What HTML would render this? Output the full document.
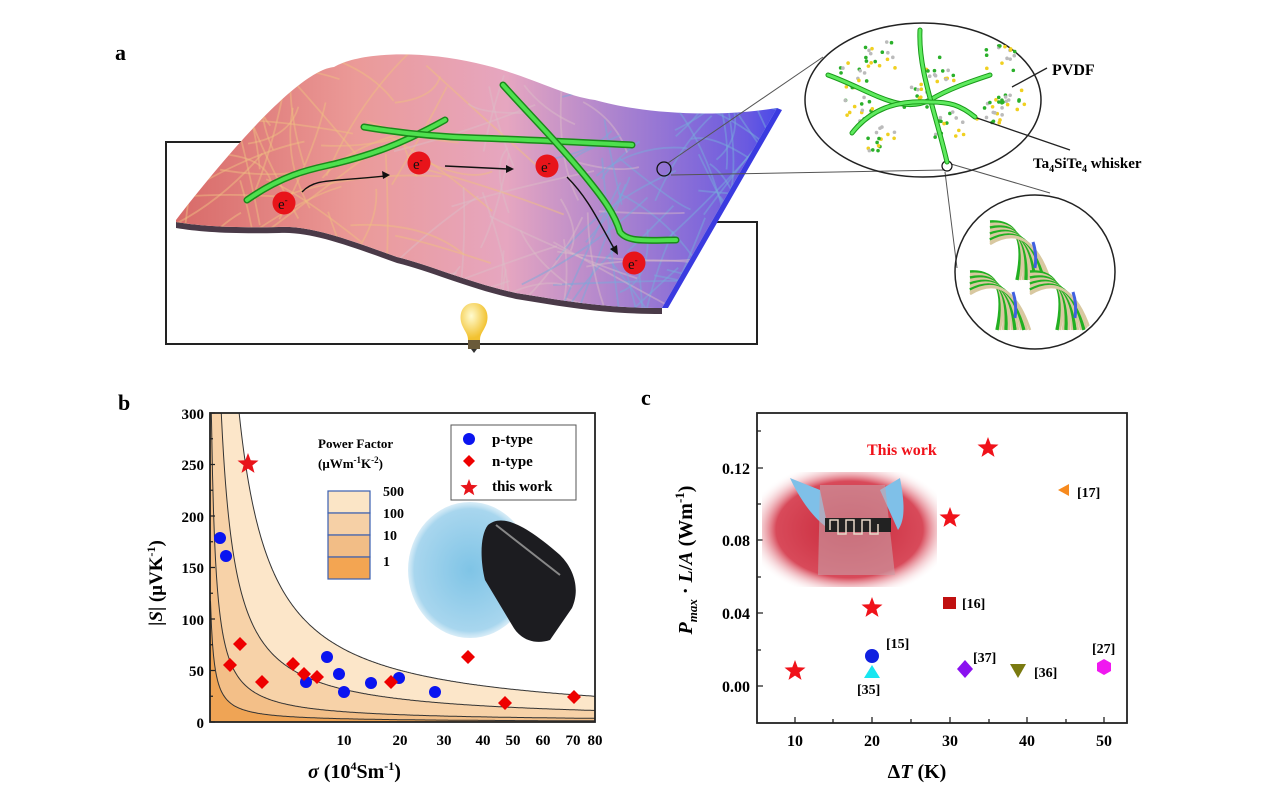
<!DOCTYPE html>
<html><head><meta charset="utf-8"><style>
html,body{margin:0;padding:0;background:#fff;}
svg{display:block;font-family:"Liberation Serif",serif;font-weight:bold;}
</style></head><body>
<svg id="s" width="1271" height="796" viewBox="0 0 1271 796" xmlns="http://www.w3.org/2000/svg">
<defs>
<linearGradient id="sheet" x1="176" y1="0" x2="777" y2="0" gradientUnits="userSpaceOnUse">
<stop offset="0" stop-color="#d86a68"/><stop offset="0.3" stop-color="#eb9a98"/><stop offset="0.55" stop-color="#e6a6c0"/><stop offset="0.75" stop-color="#a680d0"/><stop offset="0.95" stop-color="#6a5ae0"/><stop offset="1" stop-color="#4a4ae8"/>
</linearGradient>
<clipPath id="sc"><path id="sp" d="M176,220 C230,150 300,70 334,67 C360,52 420,50 476,63 C530,75 560,95 595,100 C630,110 700,120 777,108 L662,308 C600,308 560,300 516,293 C470,283 430,265 397,257 C350,240 310,225 279,227 C230,228 200,226 176,222 Z"/></clipPath>
<clipPath id="e2c"><ellipse cx="1035" cy="272" rx="78" ry="75"/></clipPath>
<radialGradient id="bulb" cx="0.4" cy="0.35" r="0.6"><stop offset="0" stop-color="#fffbd0"/><stop offset="1" stop-color="#f2c230"/></radialGradient>
<clipPath id="pb"><rect x="210" y="413" width="385" height="309"/></clipPath>
<radialGradient id="redph" cx="0.5" cy="0.5" r="0.6"><stop offset="0" stop-color="#c8283a"/><stop offset="0.7" stop-color="#d84a5a"/><stop offset="1" stop-color="#fff" stop-opacity="0"/></radialGradient>
<radialGradient id="glove" cx="0.5" cy="0.5" r="0.6"><stop offset="0" stop-color="#7fc4e6"/><stop offset="0.75" stop-color="#a8d6ee"/><stop offset="1" stop-color="#fff" stop-opacity="0"/></radialGradient>
</defs>

<text x="115" y="60" font-size="22">a</text>
<path d="M257,142 H166 V344 H757 V222 H717" fill="none" stroke="#222" stroke-width="2"/>
<path d="M176,222 C200,226 230,228 279,227 C310,225 350,240 397,257 C430,265 470,283 516,293 C560,300 600,308 662,308 L662,314 C600,314 560,306 516,299 C470,289 430,271 397,263 C350,246 310,231 279,233 C230,234 200,232 176,228Z" fill="#4a3a48"/>
<use href="#sp" fill="url(#sheet)"/>
<g id="fibers" clip-path="url(#sc)" fill="none" stroke-width="1.8"></g>
<path d="M777,108 L662,308 L668,308 L782,110Z" fill="#3a3ae0"/>
<g fill="none" stroke-linecap="round">
<path d="M247,200 C290,170 320,168 338,163 C370,155 400,145 445,120" stroke="#1a8a1a" stroke-width="7"/>
<path d="M247,200 C290,170 320,168 338,163 C370,155 400,145 445,120" stroke="#4ee04e" stroke-width="4"/>
<path d="M364,127 C400,133 440,137 476,138 C540,140 590,143 632,145" stroke="#1a8a1a" stroke-width="7"/>
<path d="M364,127 C400,133 440,137 476,138 C540,140 590,143 632,145" stroke="#4ee04e" stroke-width="4"/>
<path d="M503,85 C530,115 555,140 580,170 C605,200 615,215 620,232 C628,243 650,240 676,240" stroke="#1a8a1a" stroke-width="7"/>
<path d="M503,85 C530,115 555,140 580,170 C605,200 615,215 620,232 C628,243 650,240 676,240" stroke="#4ee04e" stroke-width="4"/>
</g>
<g fill="none" stroke="#111" stroke-width="1.4">
<path d="M302,192 C315,178 330,182 385,176"/><path d="M445,166 L508,169"/><path d="M567,177 C590,200 600,225 615,250"/>
</g>
<g fill="#111"><path d="M390,175 l-8,-4 l1,8z"/><path d="M514,169 l-8,-4 l0,8z"/><path d="M618,255 l-1,-10 l-7,4z"/></g>
<g font-size="15" font-weight="normal">
<circle cx="284" cy="203" r="11.5" fill="#e8141a"/><text x="278" y="209" fill="#111">e<tspan dy="-6" font-size="9">-</tspan></text>
<circle cx="419" cy="163" r="11.5" fill="#e8141a"/><text x="413" y="169" fill="#111">e<tspan dy="-6" font-size="9">-</tspan></text>
<circle cx="547" cy="166" r="11.5" fill="#e8141a"/><text x="541" y="172" fill="#111">e<tspan dy="-6" font-size="9">-</tspan></text>
<circle cx="634" cy="263" r="11.5" fill="#e8141a"/><text x="628" y="269" fill="#111">e<tspan dy="-6" font-size="9">-</tspan></text>
</g>
<path d="M474,303 C486,303 490,315 486,325 C483,332 480,334 480,340 H468 C468,334 465,332 462,325 C458,315 462,303 474,303Z" fill="url(#bulb)"/>
<rect x="468" y="340" width="12" height="9" fill="#6a5a3a"/><path d="M471,349 h6 l-3,4z" fill="#333"/>
<circle cx="664" cy="169" r="7" fill="none" stroke="#111" stroke-width="1.3"/>
<g stroke="#555" stroke-width="1" fill="none">
<path d="M668,163 L823,57"/><path d="M671,175 L945,170"/>
<path d="M951,164 L1050,193"/><path d="M945,172 L957,268"/>
</g>
<ellipse cx="923" cy="100" rx="118" ry="77" fill="none" stroke="#222" stroke-width="1.5"/>
<ellipse cx="1035" cy="272" rx="80" ry="77" fill="none" stroke="#222" stroke-width="1.5"/>
<circle cx="947" cy="166" r="5" fill="none" stroke="#111" stroke-width="1.2"/>
<g id="mol"></g>
<g fill="none" stroke-linecap="round">
<path d="M828,75 C870,90 900,115 930,100 C950,88 975,80 990,75" stroke="#1a9a1a" stroke-width="5"/>
<path d="M828,75 C870,90 900,115 930,100 C950,88 975,80 990,75" stroke="#5eea5e" stroke-width="3"/>
<path d="M920,30 C918,70 935,110 947,162" stroke="#1a9a1a" stroke-width="5"/>
<path d="M920,30 C918,70 935,110 947,162" stroke="#5eea5e" stroke-width="3"/>
<path d="M852,133 C870,110 895,100 930,102 C950,102 960,105 975,117" stroke="#1a9a1a" stroke-width="5"/>
<path d="M852,133 C870,110 895,100 930,102 C950,102 960,105 975,117" stroke="#5eea5e" stroke-width="3"/>
</g>
<path d="M1012,87 L1047,68" stroke="#222" stroke-width="1.3"/>
<path d="M977,118 L1070,150" stroke="#222" stroke-width="1.3"/>
<text x="1052" y="75" font-size="16">PVDF</text>
<text x="1033" y="168" font-size="15">Ta<tspan font-size="10" dy="4">4</tspan><tspan dy="-4">SiTe</tspan><tspan font-size="10" dy="4">4</tspan><tspan dy="-4"> whisker</tspan></text>
<g id="bund" clip-path="url(#e2c)"></g>

<text x="118" y="410" font-size="22">b</text>
<g clip-path="url(#pb)" id="bands"></g>
<rect x="210" y="413" width="385" height="309" fill="none" stroke="#222" stroke-width="1.8"/>
<g font-size="15" text-anchor="end">
<text x="204" y="419">300</text><text x="204" y="470">250</text><text x="204" y="522">200</text><text x="204" y="573">150</text><text x="204" y="625">100</text><text x="204" y="676">50</text><text x="204" y="728">0</text>
</g>
<g font-size="15" text-anchor="middle">
<text x="344" y="745">10</text><text x="400" y="745">20</text><text x="444" y="745">30</text><text x="483" y="745">40</text><text x="513" y="745">50</text><text x="543" y="745">60</text><text x="573" y="745">70</text><text x="595" y="745">80</text>
</g>
<text x="308" y="778" font-size="20"><tspan font-style="italic">σ</tspan> (10<tspan font-size="12" dy="-8">4</tspan><tspan dy="8">Sm</tspan><tspan font-size="12" dy="-8">-1</tspan><tspan dy="8">)</tspan></text>
<text transform="translate(162,583) rotate(-90)" font-size="19" text-anchor="middle">|<tspan font-style="italic">S</tspan>| (μVK<tspan font-size="12" dy="-7">-1</tspan><tspan dy="7">)</tspan></text>
<g font-size="13"><text x="318" y="448">Power Factor</text><text x="318" y="468">(μWm<tspan font-size="9" dy="-5">-1</tspan><tspan dy="5">K</tspan><tspan font-size="9" dy="-5">-2</tspan><tspan dy="5">)</tspan></text></g>
<g stroke="#3a5fb0" stroke-width="1.2">
<rect x="328" y="491" width="42" height="22" fill="#fbe5c6"/><rect x="328" y="513" width="42" height="22" fill="#f6d0a6"/><rect x="328" y="535" width="42" height="22" fill="#f2bd86"/><rect x="328" y="557" width="42" height="22" fill="#f3a552"/>
</g>
<g font-size="14"><text x="383" y="496">500</text><text x="383" y="518">100</text><text x="383" y="540">10</text><text x="383" y="566">1</text></g>
<ellipse cx="470" cy="570" rx="62" ry="68" fill="url(#glove)"/>
<path d="M488,525 C500,515 520,520 560,555 C575,570 580,590 572,608 L550,640 C535,645 520,640 512,625 L485,580 C480,560 480,535 488,525Z" fill="#1c1c20"/>
<path d="M496,525 L560,575" stroke="#888" stroke-width="2"/>
<rect x="451" y="425" width="125" height="75" fill="#fff" stroke="#555" stroke-width="1"/>
<circle cx="469" cy="439" r="6" fill="#0a14f0"/><text x="492" y="444" font-size="15">p-type</text>
<path d="M469,455 l6,6 l-6,6 l-6,-6z" fill="#e00"/><text x="492" y="466" font-size="15">n-type</text>
<text x="492" y="491" font-size="15">this work</text>
<g id="pts"></g>

<text x="641" y="405" font-size="22">c</text>
<rect x="757" y="413" width="370" height="310" fill="none" stroke="#222" stroke-width="1.8"/>
<g stroke="#222" stroke-width="1.3">
<path d="M795,723v-6M833,723v-4M872,723v-6M911,723v-4M950,723v-6M989,723v-4M1027,723v-6M1066,723v-4M1104,723v-6"/>
<path d="M757,686h6M757,650h4M757,613h6M757,577h4M757,540h6M757,504h4M757,468h6M757,431h4"/>
</g>
<g font-size="16" text-anchor="end"><text x="750" y="692">0.00</text><text x="750" y="619">0.04</text><text x="750" y="546">0.08</text><text x="750" y="474">0.12</text></g>
<g font-size="16" text-anchor="middle"><text x="795" y="746">10</text><text x="872" y="746">20</text><text x="950" y="746">30</text><text x="1027" y="746">40</text><text x="1104" y="746">50</text></g>
<text x="917" y="778" font-size="20" text-anchor="middle">Δ<tspan font-style="italic">T</tspan> (K)</text>
<text transform="translate(692,560) rotate(-90)" font-size="20" text-anchor="middle"><tspan font-style="italic">P</tspan><tspan font-style="italic" font-size="13" dy="5">max</tspan><tspan dy="-5"> · </tspan><tspan font-style="italic">L</tspan>/<tspan font-style="italic">A</tspan> (Wm<tspan font-size="13" dy="-8">-1</tspan><tspan dy="8">)</tspan></text>
<rect x="762" y="472" width="175" height="115" fill="url(#redph)"/>
<path d="M790,478 C800,500 815,520 828,528 L820,490Z" fill="#7fc0e8"/><path d="M900,478 C905,505 905,520 898,530 L880,490Z" fill="#7fc0e8"/>
<path d="M820,485 L885,485 L895,575 L818,575Z" fill="#c9a0a8" opacity="0.6"/>
<rect x="825" y="518" width="66" height="14" fill="#222"/>
<path d="M830,530 v-10 h8 v14 h8 v-14 h8 v14 h8 v-14 h8 v14 h8 v-10" fill="none" stroke="#e8d8c8" stroke-width="1.5"/>
<text x="867" y="455" font-size="16" fill="#f0121a">This work</text>
<g font-size="14">
<text x="1077" y="497">[17]</text><text x="962" y="608">[16]</text><text x="886" y="648">[15]</text><text x="857" y="694">[35]</text><text x="973" y="662">[37]</text><text x="1034" y="677">[36]</text><text x="1092" y="653">[27]</text>
</g>
<path d="M1058,490 l11,-6 v12z" fill="#f78a1e"/>
<rect x="943" y="597" width="13" height="12" fill="#c01010"/>
<circle cx="872" cy="656" r="7" fill="#1020e0"/>
<path d="M872,665 l8,13 h-16z" fill="#18e6f0"/>
<path d="M965,660 l8,9 l-8,9 l-8,-9z" fill="#8a10f0"/>
<path d="M1010,664 h16 l-8,14z" fill="#7a7a10"/>
<path d="M1104,659 l7,4 v8 l-7,4 l-7,-4 v-8z" fill="#f018f0"/>
<g id="starsc"></g>
</svg>
<script>
(function(){
var NS="http://www.w3.org/2000/svg";
function el(p,t,a){var e=document.createElementNS(NS,t);for(var k in a)e.setAttribute(k,a[k]);p.appendChild(e);return e;}
var seed=7;function r(){seed=(seed*16807)%2147483647;return seed/2147483647;}
var f=document.getElementById('fibers');
for(var i=0;i<170;i++){var x=170+r()*620,y=40+r()*280,a=r()*Math.PI,L=50+r()*120;
var x2=x+Math.cos(a)*L,y2=y+Math.sin(a)*L,cx=(x+x2)/2+(r()-0.5)*40,cy=(y+y2)/2+(r()-0.5)*40;
var c=x<450?"rgba(240,190,130,0.5)":(x<600?"rgba(220,190,200,0.45)":"rgba(120,170,220,0.5)");
el(f,'path',{d:'M'+x+','+y+' Q'+cx+','+cy+' '+x2+','+y2,stroke:c});}
var m=document.getElementById('mol');
var blobs=[[855,75],[940,70],[1000,58],[1010,100],[880,140],[990,110],[860,110],[915,95],[950,125],[880,55]];
blobs.forEach(function(b){for(var j=0;j<16;j++){var px=b[0]+(r()-0.5)*30,py=b[1]+(r()-0.5)*26;
el(m,'circle',{cx:px,cy:py,r:1.8,fill:j%3==0?'#2ab02a':(j%3==1?'#f0d020':'#bbb')});}});
var bd=document.getElementById('bund');
[[1035,250],[1015,300],[1075,300]].forEach(function(b){
for(var j=0;j<12;j++){el(bd,'path',{d:'M'+(b[0]-45)+','+(b[1]-28+j*2)+' Q'+(b[0]-5)+','+(b[1]-30)+' '+(b[0]+j*3-18)+','+(b[1]+30),fill:'none',stroke:j%3?'#d8c8a0':'#22b022','stroke-width':j%3?2.5:3.5});}
el(bd,'path',{d:'M'+(b[0]-2)+','+(b[1]-8)+' q4,12 2,26',stroke:'#4060e0','stroke-width':3,fill:'none'});});
var g=document.getElementById('bands');
function Y(S){return 722-1.03*S;}
function curve(pf){var d='M210,722';for(var x=210.5;x<=596;x+=1){var s=Math.pow((x-206.8)/43.4,2);var S=Math.sqrt(pf*100/s);var y=Math.max(Y(S),380);d+=' L'+x+','+y.toFixed(1);}return d+' L596,722 Z';}
[[500,'#fce6c9'],[100,'#f7d2a8'],[10,'#f3bf88'],[1,'#efa455']].forEach(function(p){el(g,'path',{d:curve(p[0]),fill:p[1]});});
[500,100,10,1].forEach(function(pf){var d='';for(var x=210.5;x<=596;x+=1){var s=Math.pow((x-206.8)/43.4,2);var y=Math.max(Y(Math.sqrt(pf*100/s)),380);d+=(d?' L':'M')+x+','+y.toFixed(1);}el(g,'path',{d:d,fill:'none',stroke:'#333','stroke-width':1});});
var pts=document.getElementById('pts');
function star(p,x,y,R,c){var d='';for(var k=0;k<10;k++){var rr=k%2?R*0.42:R,a=-Math.PI/2+k*Math.PI/5;d+=(k?'L':'M')+(x+rr*Math.cos(a)).toFixed(1)+','+(y+rr*Math.sin(a)).toFixed(1);}el(p,'path',{d:d+'Z',fill:c});}
[[220,538],[226,556],[306,682],[327,657],[339,674],[344,692],[371,683],[399,678],[435,692]].forEach(function(p){el(pts,'circle',{cx:p[0],cy:p[1],r:6,fill:'#0a14f0'});});
[[240,644],[230,665],[262,682],[293,664],[304,674],[317,677],[391,682],[468,657],[505,703],[574,697]].forEach(function(p){el(pts,'path',{d:'M'+p[0]+','+(p[1]-7)+' l7,7 l-7,7 l-7,-7z',fill:'#e00'});});
star(pts,248,464,11,'#e8141a');star(pts,469,488,9,'#e8141a');
var sc=document.getElementById('starsc');
[[795,671],[872,608],[950,518],[988,448]].forEach(function(p){star(sc,p[0],p[1],11,'#f0121a');});
var h='';for(var v=0;v<=300;v+=25){var y=Y(v);h+='M210,'+y+'h'+(v%50?3:5);}
el(pts,'path',{d:h,stroke:'#222','stroke-width':1.2});
})();
</script>
</body></html>
